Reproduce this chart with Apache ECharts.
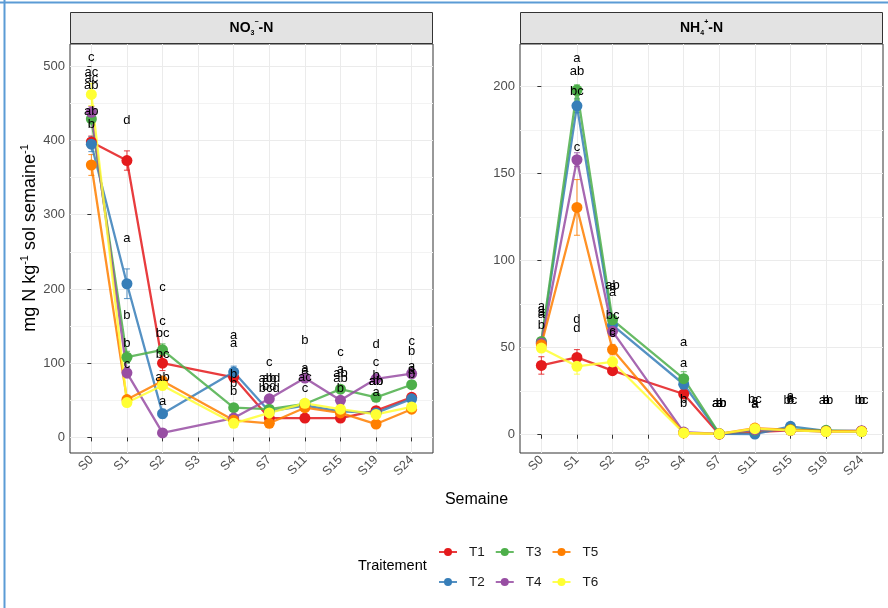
<!DOCTYPE html>
<html><head><meta charset="utf-8">
<script src="https://cdn.jsdelivr.net/npm/echarts@6/dist/echarts.min.js"></script>
<style>html,body{margin:0;padding:0;background:#fff}#c{width:888px;height:608px}</style>
</head><body><div id="c"></div>
<script>
// ---------- data ----------
const weeks = ['S0','S1','S2','S3','S4','S7','S11','S15','S19','S24'];
const treatments = ['T1','T2','T3','T4','T5','T6'];
const colors = ['#E41A1C','#377EB8','#4DAF4A','#984EA3','#FF7F00','#FFFF33'];

// NO3- -N means (S3 not measured)
const no3_T1 = [398, 373, 100, null, 81, 26, 26, 26, 36, 54];
const no3_T2 = [395, 207, 32, null, 88, 35, 43, 35, 33, 52];
const no3_T3 = [429, 108, 118, null, 40, 38, 45, 65, 54, 71];
const no3_T4 = [438, 87, 6, null, 26, 52, 80, 50, 79, 86];
const no3_T5 = [367, 51, 76, null, 23, 19, 40, 33, 18, 38];
const no3_T6 = [462, 47, 70, null, 19, 33, 46, 38, 31, 41];
// NO3 standard errors
const no3Se_T1 = [8, 13, 10, null, 6, 3, 3, 3, 4, 5];
const no3Se_T2 = [10, 20, 6, null, 8, 4, 4, 3, 3, 5];
const no3Se_T3 = [8, 8, 8, null, 4, 4, 4, 5, 4, 5];
const no3Se_T4 = [8, 7, 2, null, 5, 5, 6, 4, 6, 6];
const no3Se_T5 = [14, 5, 6, null, 3, 3, 4, 3, 3, 4];
const no3Se_T6 = [15, 5, 6, null, 4, 4, 4, 4, 3, 4];

// NH4+ -N means
const nh4_T1 = [39.8, 44.4, 36.8, null, 23.4, 0.3, 1.5, 2.5, 2.0, 2.0];
const nh4_T2 = [53.0, 189, 63.0, null, 29.0, 0.5, 0.4, 4.8, 2.2, 2.0];
const nh4_T3 = [53.6, 198, 66.0, null, 32.2, 0.6, 2.5, 3.0, 2.5, 2.0];
const nh4_T4 = [52.6, 158, 59.4, null, 1.5, 0.5, 2.8, 2.5, 2.0, 2.3];
const nh4_T5 = [51.7, 130.6, 48.9, null, 1.0, 0.5, 3.8, 2.8, 2.0, 2.0];
const nh4_T6 = [49.8, 39.3, 41.8, null, 1.0, 0.5, 3.5, 2.5, 1.8, 1.8];
// NH4 standard errors
const nh4Se_T1 = [5, 4.5, 2, null, 2, 0.3, 0.5, 0.5, 0.4, 0.4];
const nh4Se_T2 = [2, 4, 3, null, 4, 0.2, 0.5, 1, 0.4, 0.4];
const nh4Se_T3 = [2, 3, 3, null, 4, 0.2, 0.5, 0.5, 0.4, 0.4];
const nh4Se_T4 = [2, 4, 3, null, 0.5, 0.2, 0.5, 0.5, 0.4, 0.4];
const nh4Se_T5 = [2, 16, 3, null, 0.5, 0.2, 0.5, 0.5, 0.4, 0.4];
const nh4Se_T6 = [2, 4.5, 3, null, 0.5, 0.2, 0.5, 0.5, 0.4, 0.4];

// significance letters per week, and the height (axis value) they sit at
const no3LabelText = [
  ['c','ac','ac','ab','ab','b'],
  ['d','a','b','b','c'],
  ['c','c','bc','bc','ab','a'],
  [],
  ['a','a','b','b','b'],
  ['c','ab','abd','bd','bcd'],
  ['b','a','a','ac','c'],
  ['c','a','ab','ab','b'],
  ['d','c','b','ab','ab','a'],
  ['c','b','a','a','b']
];
const no3LabelY = [
  [512, 492, 484, 474, 439, 421],
  [427, 268, 164, 127, 99],
  [202, 156, 140, 112, 81, 48.5],
  [],
  [137, 127, 84.5, 73, 62],
  [101, 79, 79, 69, 66],
  [131, 93.5, 90, 81, 66.5],
  [114.5, 91, 86, 80, 66.5],
  [125, 101, 83, 76, 75, 60],
  [129, 116, 96, 90, 84.5]
];
const nh4LabelText = [
  ['a','a','a','a','b'],
  ['a','ab','bc','c','d','d'],
  ['ab','a','a','bc','c','c'],
  [],
  ['a','a','b','b'],
  ['ab','a','b','ab'],
  ['bc','c','a','a'],
  ['a','bc','b','a'],
  ['ab','a','b'],
  ['bc','b','c']
];
const nh4LabelY = [
  [73.7, 71.8, 70, 69, 63],
  [216.5, 209, 197, 165, 66.5, 61.3],
  [86, 85, 82, 68.6, 59.5, 58.4],
  [],
  [53.3, 41.2, 20, 18.2],
  [17.8, 17.8, 17.8, 17.8],
  [20.5, 19.5, 18, 17.5],
  [22, 19.5, 19.5, 21],
  [19.5, 19.5, 19.5],
  [19.5, 19.5, 19.5]
];

const no3Ticks = [0, 100, 200, 300, 400, 500];
const no3Minor = [50, 150, 250, 350, 450];
const nh4Ticks = [0, 50, 100, 150, 200];
const nh4Minor = [25, 75, 125, 175];

// ---------- build ----------
const FONT = '"Liberation Sans", Arial, Helvetica, sans-serif';
const weekIdx = weeks.map((w, i) => i);
const panels = [
  {means:[no3_T1,no3_T2,no3_T3,no3_T4,no3_T5,no3_T6], se:[no3Se_T1,no3Se_T2,no3Se_T3,no3Se_T4,no3Se_T5,no3Se_T6],
   lt:no3LabelText, ly:no3LabelY, min:-21, max:530, ticks:no3Ticks, minor:no3Minor, left:70},
  {means:[nh4_T1,nh4_T2,nh4_T3,nh4_T4,nh4_T5,nh4_T6], se:[nh4Se_T1,nh4Se_T2,nh4Se_T3,nh4Se_T4,nh4Se_T5,nh4Se_T6],
   lt:nh4LabelText, ly:nh4LabelY, min:-10.5, max:224.5, ticks:nh4Ticks, minor:nh4Minor, left:520}
];
const PW = 363, PT = 44, PH = 409;

const grid = [], xAxis = [], yAxis = [], series = [];
panels.forEach((p, pi) => {
  grid.push({left:p.left, top:PT, width:PW, height:PH, show:true, borderColor:'#333333', borderWidth:1, backgroundColor:'transparent'});
  xAxis.push({type:'value', gridIndex:pi, min:-0.6, max:9.6,
    axisLine:{show:false},
    axisTick:{show:true, length:4, lineStyle:{color:'#333333'}, customValues:weekIdx},
    axisLabel:{customValues:weekIdx, formatter:v => weeks[Math.round(v)], rotate:45, margin:5,
      color:'#4d4d4d', fontSize:12.5, fontFamily:FONT},
    splitLine:{show:true, lineStyle:{color:'#ebebeb', width:1}}});
  yAxis.push({type:'value', gridIndex:pi, min:p.min, max:p.max,
    axisLine:{show:false},
    axisTick:{show:true, length:4, lineStyle:{color:'#333333'}, customValues:p.ticks},
    axisLabel:{customValues:p.ticks, margin:5, color:'#4d4d4d', fontSize:13, fontFamily:FONT},
    splitLine:{show:true, lineStyle:{color:'#ebebeb', width:1}}});
  yAxis.push({type:'value', gridIndex:pi, min:p.min, max:p.max, position:'right',
    axisLine:{show:false}, axisLabel:{show:false},
    axisTick:{show:false, customValues:p.minor},
    splitLine:{show:true, lineStyle:{color:'#f3f3f3', width:1}}});
  const yi = pi * 2;
  // error bars
  treatments.forEach((t, ti) => {
    const d = [];
    p.means[ti].forEach((v, i) => { if (v != null) d.push([i, v - p.se[ti][i], v + p.se[ti][i]]); });
    series.push({type:'custom', xAxisIndex:pi, yAxisIndex:yi, silent:true, z:2,
      itemStyle:{color:colors[ti]}, data:d, encode:{x:0, y:[1,2]},
      renderItem:(params, api) => {
        const x = api.value(0);
        const a = api.coord([x, api.value(2)]), b = api.coord([x, api.value(1)]);
        const st = {stroke:colors[ti], lineWidth:1, opacity:0.85};
        return {type:'group', children:[
          {type:'line', shape:{x1:a[0], y1:a[1], x2:b[0], y2:b[1]}, style:st},
          {type:'line', shape:{x1:a[0]-3, y1:a[1], x2:a[0]+3, y2:a[1]}, style:st},
          {type:'line', shape:{x1:b[0]-3, y1:b[1], x2:b[0]+3, y2:b[1]}, style:st}
        ]};
      }});
  });
  // lines + points
  treatments.forEach((t, ti) => {
    const d = [];
    p.means[ti].forEach((v, i) => { if (v != null) d.push([i, v]); });
    series.push({type:'line', name:t, xAxisIndex:pi, yAxisIndex:yi, data:d, z:3,
      symbol:'circle', symbolSize:11, showSymbol:true,
      itemStyle:{color:colors[ti]},
      lineStyle:{color:colors[ti], width:2.3, opacity:0.85}});
  });
  // letters, drawn as text at (week, height) through the axes
  const ld = [];
  p.lt.forEach((arr, i) => arr.forEach((s, k) => ld.push({value:[i, p.ly[i][k]], name:s})));
  series.push({type:'custom', xAxisIndex:pi, yAxisIndex:yi, silent:true, z:10, data:ld, encode:{x:0, y:1},
    renderItem:(params, api) => {
      const c = api.coord([api.value(0), api.value(1)]);
      return {type:'text', x:c[0], y:c[1], style:{text:ld[params.dataIndex].name, fill:'#000000',
        fontSize:13, fontFamily:FONT, align:'center', verticalAlign:'middle'}};
    }});
});

const stripRich = {
  b:{fontSize:14, fontWeight:'bold', fontFamily:FONT, color:'#1a1a1a', lineHeight:18},
  sub:{fontSize:7, fontWeight:'bold', fontFamily:FONT, color:'#1a1a1a', lineHeight:10, verticalAlign:'bottom'},
  sup:{fontSize:7, fontWeight:'bold', fontFamily:FONT, color:'#1a1a1a', lineHeight:10, verticalAlign:'top'}
};
function strip(left, txt) {
  return [
    {type:'rect', shape:{x:left + 0.5, y:12.5, width:PW - 1, height:31}, style:{fill:'#e3e3e3', stroke:'#333333', lineWidth:1}, z:0},
    {type:'text', x:left + PW / 2, y:28, style:{text:txt, rich:stripRich, align:'center', verticalAlign:'middle'}, z:1}
  ];
}

const option = {
  animation:false,
  backgroundColor:'#ffffff',
  grid, xAxis, yAxis, series,
  legend:[
    {data:['T1','T3','T5'], left:438, top:545, padding:0, orient:'horizontal', itemWidth:18, itemHeight:10, itemGap:10,
     textStyle:{fontSize:13.5, color:'#1a1a1a', fontFamily:FONT, padding:[0,0,0,7]}},
    {data:['T2','T4','T6'], left:438, top:575, padding:0, orient:'horizontal', itemWidth:18, itemHeight:10, itemGap:10,
     textStyle:{fontSize:13.5, color:'#1a1a1a', fontFamily:FONT, padding:[0,0,0,7]}}
  ],
  graphic:[
    {type:'line', shape:{x1:0, y1:2.5, x2:888, y2:2.5}, style:{stroke:'#5b9bd5', lineWidth:2}},
    {type:'line', shape:{x1:4.5, y1:0, x2:4.5, y2:608}, style:{stroke:'#5b9bd5', lineWidth:2}},
    ...strip(70, '{b|NO}{sub|3}{sup|−}{b|-N}'),
    ...strip(520, '{b|NH}{sub|4}{sup|+}{b|-N}'),
    {type:'text', x:476.5, y:500, style:{text:'Semaine', fontSize:16, fontFamily:FONT, fill:'#000', align:'center', verticalAlign:'middle'}},
    {type:'text', x:358, y:566, style:{text:'Traitement', fontSize:14.5, fontFamily:FONT, fill:'#000', align:'left', verticalAlign:'middle'}},
    {type:'text', x:30, y:238, rotation:Math.PI / 2,
     style:{text:'{t|mg N kg}{s|-1}{t| sol semaine}{s|-1}', align:'center', verticalAlign:'middle',
       rich:{t:{fontSize:18, fontFamily:FONT, fill:'#000', color:'#000', lineHeight:22},
             s:{fontSize:11, fontFamily:FONT, fill:'#000', color:'#000', lineHeight:13, verticalAlign:'top'}}}}
  ]
};
const chart = echarts.init(document.getElementById('c'));
chart.setOption(option);
</script></body></html>
